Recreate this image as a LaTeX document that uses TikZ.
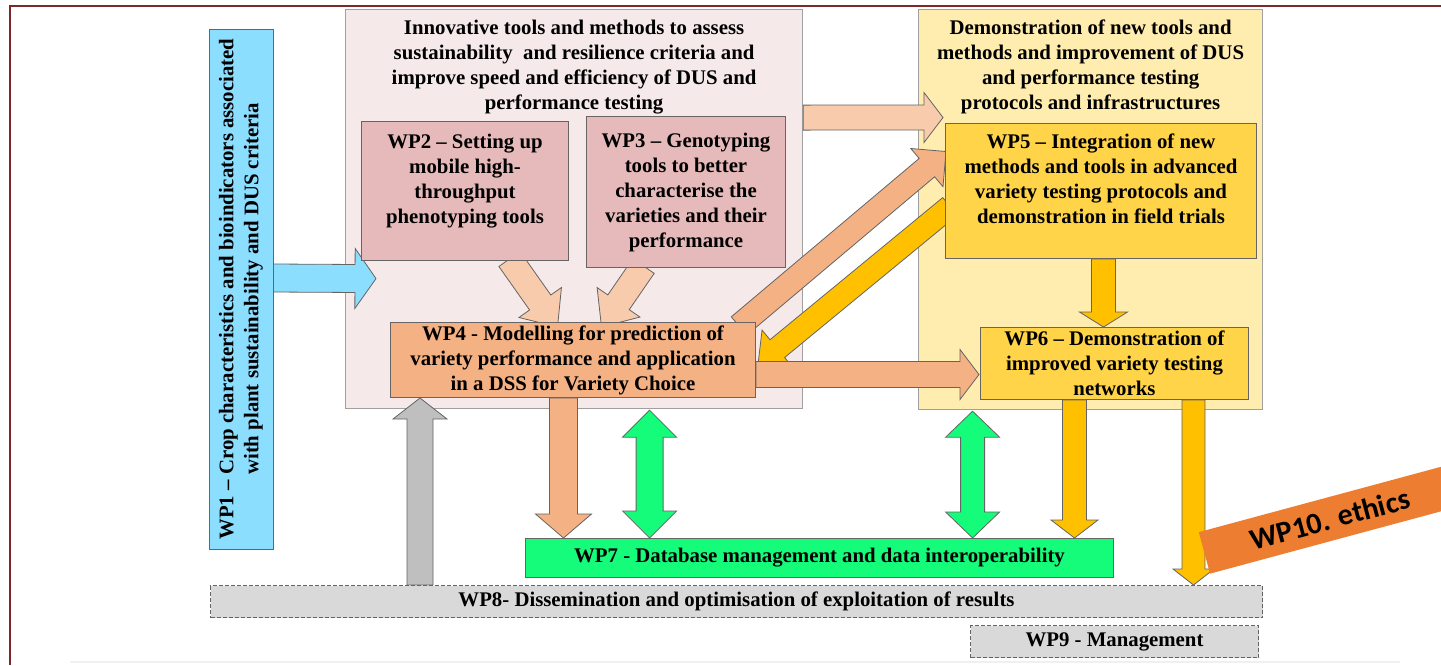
\documentclass[tikz,border=0pt]{standalone}
\usepackage{fontspec}
\setmainfont{Liberation Serif}
\newfontfamily\calfont{Carlito}
\usetikzlibrary{calc,positioning}

\definecolor{framered}{RGB}{125,40,40}
\definecolor{grpAfill}{RGB}{246,233,233}
\definecolor{grpBfill}{RGB}{255,236,175}
\definecolor{grpline}{RGB}{160,160,160}
\definecolor{boxline}{RGB}{105,100,100}
\definecolor{wp1fill}{RGB}{140,222,255}
\definecolor{wp23fill}{RGB}{230,186,186}
\definecolor{wp4fill}{RGB}{244,177,131}
\definecolor{wp56fill}{RGB}{255,212,72}
\definecolor{wp7fill}{RGB}{20,252,122}
\definecolor{wpgray}{RGB}{217,217,217}
\definecolor{arrlight}{RGB}{248,203,173}
\definecolor{arrsalmon}{RGB}{244,177,131}
\definecolor{arryellow}{RGB}{255,192,0}
\definecolor{arrgray}{RGB}{191,191,191}
\definecolor{arrline}{RGB}{100,100,100}
\definecolor{ethicsfill}{RGB}{237,125,49}

\pgfdeclarelayer{grp}
\pgfdeclarelayer{arrows}
\pgfsetlayers{grp,arrows,main}

\newcommand{\wpfont}{\fontsize{10.4}{12.5}\selectfont\bfseries}

\tikzset{
  grpbox/.style={draw=grpline, rectangle, line width=0.6pt, inner sep=0pt, anchor=north west},
  hdr/.style={align=center, inner sep=0pt, font=\wpfont},
  wpbox/.style={draw=boxline, rectangle, line width=0.5pt, align=center, inner sep=0pt, font=\wpfont},
  dashbox/.style={wpbox, draw=arrline, fill=wpgray, dash pattern=on 2pt off 1pt},
  fatarr/.style={draw=arrline, line width=0.4pt, line join=miter},
  ethics/.style={fill=ethicsfill, rectangle, inner sep=0pt, font=\calfont\fontsize{15}{18}\selectfont\bfseries},
}

% block arrow: [fill] from, to, shaft half width, head half width, head length
\newcommand{\fatarrow}[6][]{%
  \coordinate (fahd) at ($(#3)!#6!(#2)$);
  \draw[fatarr,#1] ($(#2)!#4!90:(#3)$) -- ($(fahd)!#4!90:(#3)$) -- ($(fahd)!#5!90:(#3)$)
    -- (#3) -- ($(fahd)!#5!-90:(#3)$) -- ($(fahd)!#4!-90:(#3)$) -- ($(#2)!#4!-90:(#3)$) -- cycle;
}
% block arrow with two heads
\newcommand{\dblarrow}[6][]{%
  \coordinate (dbha) at ($(#2)!#6!(#3)$);
  \coordinate (dbhb) at ($(#3)!#6!(#2)$);
  \draw[fatarr,#1] (#2) -- ($(dbha)!#5!90:(#3)$) -- ($(dbha)!#4!90:(#3)$)
    -- ($(dbhb)!#4!-90:(#2)$) -- ($(dbhb)!#5!-90:(#2)$) -- (#3)
    -- ($(dbhb)!#5!90:(#2)$) -- ($(dbhb)!#4!90:(#2)$)
    -- ($(dbha)!#4!-90:(#3)$) -- ($(dbha)!#5!-90:(#3)$) -- cycle;
}

\begin{document}
\begin{tikzpicture}[x=0.5pt, y=-0.5pt]
\useasboundingbox (0,0) rectangle (1441,665);

\draw[framered, line width=1pt] (1441,6) -- (10,6) -- (10,665);
\draw[gray!12, line width=0.8pt] (70,662) -- (1400,662);

\begin{pgfonlayer}{grp}
\node[grpbox, fill=grpAfill, minimum width=228.5pt, minimum height=199.5pt] (grpA) at (345,9) {};
\node[grpbox, fill=grpBfill, minimum width=172pt, minimum height=200pt] (grpB) at (918,9) {};
\end{pgfonlayer}

\node[hdr, below=5.5pt of grpA.north] (hdrA) {Innovative tools and methods to assess\\
  sustainability\ \ and resilience criteria and\\improve speed and efficiency of DUS and\\performance testing};
\node[hdr, below=5pt of grpB.north] (hdrB) {Demonstration of new tools and\\
  methods and improvement of DUS\\and performance testing\\protocols and infrastructures};

\node[wpbox, fill=wp1fill, rotate=90, minimum width=260pt, minimum height=32pt] (wp1) at (241,289)
  {WP1 – Crop characteristics and bioindicators associated\\with plant sustainability and DUS criteria};

\node[wpbox, fill=wp23fill, anchor=north west, minimum width=103.5pt, minimum height=69.5pt] (wp2) at (361,121)
  {WP2 – Setting up\\mobile high-\\throughput\\phenotyping tools\\ \mbox{}};
\node[wpbox, fill=wp23fill, anchor=north west, minimum width=99.5pt, minimum height=75.5pt] (wp3) at (586,116)
  {WP3 – Genotyping\\tools to better\\characterise the\\varieties and their\\performance};
\node[wpbox, fill=wp4fill, anchor=north west, minimum width=182.5pt, minimum height=37.5pt] (wp4) at (390,322)
  {WP4 - Modelling for prediction of\\variety performance and application\\in a DSS for Variety Choice};

\node[wpbox, fill=wp56fill, anchor=north west, minimum width=155.5pt, minimum height=67.5pt] (wp5) at (945,123)
  {WP5 – Integration of new\\methods and tools in advanced\\variety testing protocols and\\demonstration in field trials\\ \mbox{}};
\node[wpbox, fill=wp56fill, anchor=north west, minimum width=134pt, minimum height=36pt] (wp6) at (980,327)
  {WP6 – Demonstration of\\improved variety testing\\networks};

\node[wpbox, fill=wp7fill, anchor=north west, minimum width=294pt, minimum height=19.5pt] (wp7) at (525,538)
  {WP7 - Database management and data interoperability};
\node[dashbox, anchor=north west, minimum width=526pt, minimum height=16pt] (wp8) at (210,585)
  {WP8- Dissemination and optimisation of exploitation of results};
\node[dashbox, below left=3.5pt and 2pt of wp8.south east, minimum width=144pt, minimum height=16pt] (wp9)
  {WP9 - Management};

% arrow ends
\coordinate (a1s) at ($(wp1.south)+(0,-11)$);
\coordinate (a1t) at ($(grpA.west)+(31,69.5)$);
\coordinate (a2s) at ($(wp2.south)+(44.5,-2)$);
\coordinate (a2t) at ($(wp4.north)+(-15.5,5)$);
\coordinate (a3s) at ($(wp3.south)+(-42.5,-2)$);
\coordinate (a3t) at ($(wp4.north)+(28.5,5)$);
\coordinate (a4s) at ($(grpA.east)+(0,-91.5)$);
\coordinate (a4t) at ($(wp5.west)+(-2,-73.5)$);
\coordinate (a5s) at ($(wp4.north east)+(-17,4)$);
\coordinate (a5t) at ($(wp5.west)+(1,-39.5)$);
\coordinate (a6s) at ($(wp5.west)+(5,15.5)$);
\coordinate (a6t) at ($(wp4.east)+(2,4.5)$);
\coordinate (a7s) at ($(wp4.east)+(0,14.5)$);
\coordinate (a7t) at ($(wp6.west)+(-1,11)$);
\coordinate (a8s) at ($(wp5.south)+(2.5,0)$);
\coordinate (a9s) at ($(wp4.south)+(-9.5,0)$);
\coordinate (a10s) at ($(grpA.south)+(75.5,1)$);
\coordinate (a11s) at ($(grpB.south)+(-118,1)$);
\coordinate (a12s) at ($(wp6.south)+(-40,0)$);
\coordinate (a13s) at ($(wp6.south)+(79,0)$);
\coordinate (a14t) at ($(wp4.south west)+(30,0)$);

\begin{pgfonlayer}{arrows}
\fatarrow[fill=wp1fill]{a1s}{a1t}{7pt}{15pt}{10.5pt}
\fatarrow[fill=arrlight]{a2s}{a2t}{6.5pt}{13pt}{15pt}
\fatarrow[fill=arrlight]{a3s}{a3t}{6.5pt}{13pt}{15pt}
\fatarrow[fill=arrlight]{a4s}{a4t}{6.25pt}{12.5pt}{9.5pt}
\fatarrow[fill=arrsalmon]{a5s}{a5t}{6pt}{12.5pt}{12.5pt}
\fatarrow[fill=arryellow]{a6s}{a6t}{5.75pt}{12pt}{12.5pt}
\fatarrow[fill=arrsalmon]{a7s}{a7t}{6.5pt}{12.5pt}{9.5pt}
\fatarrow[fill=arryellow]{a8s}{a8s |- wp6.north}{6pt}{12pt}{7.5pt}
\fatarrow[fill=arrsalmon]{a9s}{a9s |- wp7.north}{7pt}{14pt}{12pt}
\dblarrow[fill=wp7fill]{a10s}{a10s |- wp7.north}{6.75pt}{13.5pt}{13.5pt}
\dblarrow[fill=wp7fill]{a11s}{a11s |- wp7.north}{6pt}{13.5pt}{13pt}
\fatarrow[fill=arryellow]{a12s}{a12s |- wp7.north}{6pt}{11.75pt}{9pt}
\fatarrow[fill=arryellow]{a13s}{a13s |- wp8.north}{5.75pt}{10.25pt}{8pt}
\fatarrow[fill=arrgray]{a14t |- wp8.north}{a14t}{6.5pt}{13.5pt}{10.5pt}
\end{pgfonlayer}

\begin{scope}
\clip (0,0) rectangle (1441,665);
\node[ethics, rotate=15.1, anchor=west, minimum width=130pt, minimum height=21.5pt] (wp10) at (1204,553) {WP10. ethics};
\end{scope}

\end{tikzpicture}
\end{document}
